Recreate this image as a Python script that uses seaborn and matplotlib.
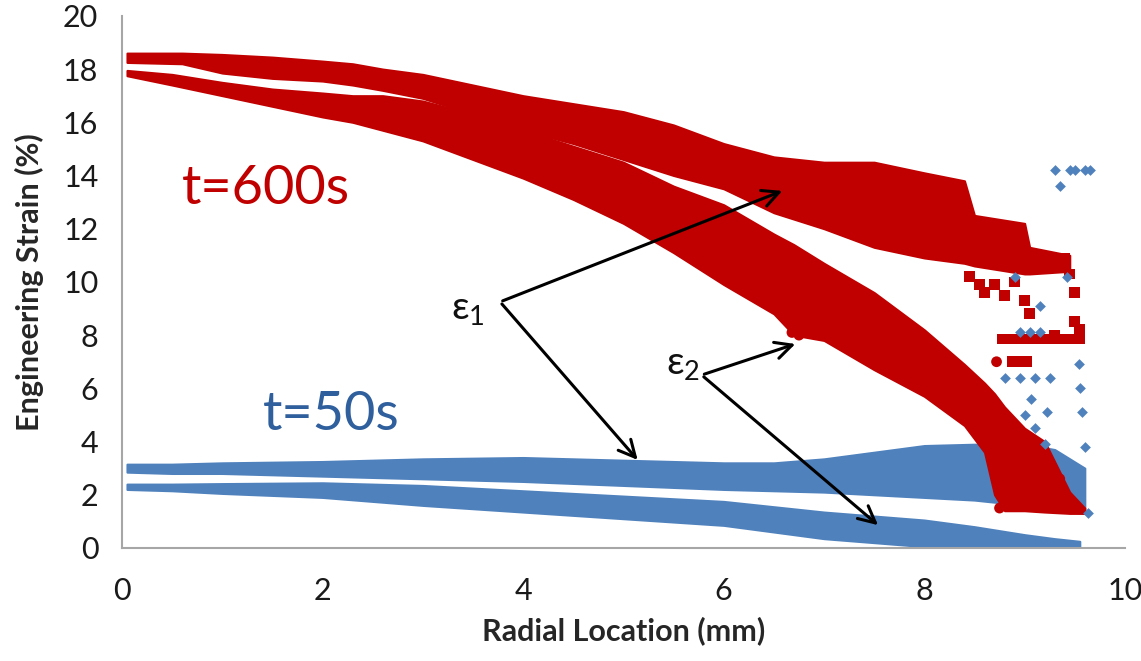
import numpy as np
import pandas as pd
import matplotlib
matplotlib.use("Agg")
import matplotlib.pyplot as plt
import seaborn as sns

# ---- strain bands: radial position (mm) with lower / upper envelope (%) ----
# t = 600 s, epsilon_1 (squares)
r600_e1_x = [0.05, 0.6, 1.0, 1.5, 2.0, 2.3, 2.6, 3.0, 3.5, 4.0, 4.5, 5.0, 5.5, 6.0, 6.5, 7.0, 7.5, 8.0, 8.4, 8.5, 9.0, 9.05, 9.45]
r600_e1_hi = [18.6, 18.6, 18.55, 18.45, 18.3, 18.2, 18.0, 17.8, 17.4, 17.0, 16.7, 16.4, 15.9, 15.2, 14.7, 14.5, 14.5, 14.1, 13.8, 12.5, 12.2, 11.3, 11.0]
r600_e1_lo = [18.25, 18.2, 17.85, 17.65, 17.55, 17.4, 17.2, 16.9, 16.3, 15.7, 15.2, 14.6, 14.0, 13.5, 12.6, 12.0, 11.3, 10.9, 10.7, 10.6, 10.3, 10.3, 10.4]

# t = 600 s, epsilon_2 (circles)
r600_e2_x = [0.05, 0.5, 1.0, 1.5, 2.0, 2.3, 2.6, 3.0, 3.5, 4.0, 4.5, 5.0, 5.5, 6.0, 6.5, 6.7, 7.0, 7.5, 8.0, 8.4, 8.6, 8.7, 8.8, 9.0, 9.2, 9.45, 9.6]
r600_e2_hi = [17.95, 17.8, 17.5, 17.25, 17.1, 17.0, 17.0, 16.8, 16.3, 15.7, 15.1, 14.5, 13.6, 12.9, 11.8, 11.4, 10.7, 9.6, 8.2, 6.9, 6.2, 5.8, 5.3, 4.5, 4.0, 2.1, 1.5]
r600_e2_lo = [17.75, 17.4, 17.0, 16.6, 16.2, 16.0, 15.7, 15.3, 14.6, 13.9, 13.1, 12.2, 11.1, 9.9, 8.8, 8.0, 7.8, 6.7, 5.7, 4.6, 3.6, 2.0, 1.4, 1.4, 1.35, 1.3, 1.3]

# t = 50 s, epsilon_1 (diamonds)
r50_e1_x = [0.05, 0.5, 1.0, 2.0, 3.0, 4.0, 5.0, 6.0, 6.5, 7.0, 7.5, 8.0, 8.5, 9.0, 9.3, 9.6]
r50_e1_hi = [3.15, 3.15, 3.2, 3.25, 3.35, 3.4, 3.3, 3.2, 3.2, 3.35, 3.6, 3.85, 3.9, 3.9, 3.7, 3.0]
r50_e1_lo = [2.85, 2.8, 2.8, 2.7, 2.6, 2.5, 2.35, 2.2, 2.15, 2.1, 2.0, 1.9, 1.8, 1.6, 1.4, 1.3]

# t = 50 s, epsilon_2 (diamonds)
r50_e2_x = [0.05, 0.5, 1.0, 2.0, 3.0, 4.0, 5.0, 6.0, 6.5, 7.0, 7.5, 8.0, 8.5, 9.0, 9.3, 9.55]
r50_e2_hi = [2.4, 2.4, 2.42, 2.45, 2.35, 2.15, 1.95, 1.75, 1.55, 1.35, 1.2, 1.05, 0.8, 0.5, 0.35, 0.25]
r50_e2_lo = [2.2, 2.15, 2.05, 1.9, 1.6, 1.35, 1.1, 0.85, 0.6, 0.35, 0.2, 0.05, 0.0, 0.0, 0.0, 0.0]

# loose points near the specimen edge
red_sq_x = [8.45, 8.55, 8.6, 8.7, 8.8, 8.9, 9.0, 9.05, 9.4, 9.45, 9.5, 9.5, 9.55, 9.3,
            8.78, 8.88, 8.98, 9.08, 9.18, 9.28, 9.38, 9.48, 9.55, 8.88, 8.95, 9.02]
red_sq_y = [10.2, 9.9, 9.6, 9.9, 9.5, 10.0, 9.3, 8.8, 10.9, 10.3, 9.6, 8.5, 8.2, 8.0,
            7.85, 7.85, 7.85, 7.85, 7.85, 7.85, 7.85, 7.85, 7.85, 7.0, 7.0, 7.0]
red_ci_x = [6.68, 6.75, 8.72, 8.8, 8.95, 9.1, 9.25, 9.35, 8.75, 9.05]
red_ci_y = [8.1, 8.0, 7.0, 3.3, 3.6, 3.3, 2.9, 2.6, 1.5, 1.9]
blue_pt_x = [9.3, 9.45, 9.5, 9.6, 9.65, 9.35, 8.9, 9.15, 9.42, 8.95, 9.05, 9.15, 8.8, 8.95, 9.1, 9.25,
             9.54, 9.55, 9.57, 9.06, 9.22, 9.0, 9.1, 9.2, 9.6, 9.63]
blue_pt_y = [14.2, 14.2, 14.2, 14.2, 14.2, 13.6, 10.2, 9.1, 10.2, 8.1, 8.1, 8.1, 6.4, 6.4, 6.4, 6.4,
             6.9, 6.0, 5.1, 5.6, 5.1, 5.0, 4.5, 3.9, 3.8, 1.3]

RED = "#C00000"
BLUE = "#4F81BD"
BLUE_TXT = "#2F5F9C"

sns.set_theme(style="white")
plt.rcParams["font.family"] = ["Lato", "DejaVu Sans"]
plt.rcParams["mathtext.fontset"] = "custom"
plt.rcParams["mathtext.rm"] = "Lato"
plt.rcParams["mathtext.it"] = "Lato"

fig = plt.figure(figsize=(11.41, 6.61), dpi=100)
ax = fig.add_axes([0.1069, 0.171, 0.879, 0.805])


def band(x, lo, hi, color, z):
    ax.fill_between(x, lo, hi, color=color, linewidth=1.5, edgecolor=color, zorder=z)


band(r50_e1_x, r50_e1_lo, r50_e1_hi, BLUE, 2)
band(r50_e2_x, r50_e2_lo, r50_e2_hi, BLUE, 2)
band(r600_e2_x, r600_e2_lo, r600_e2_hi, RED, 3)
band(r600_e1_x, r600_e1_lo, r600_e1_hi, RED, 3)

loose = pd.concat([
    pd.DataFrame({"x": red_sq_x, "y": red_sq_y, "kind": "sq"}),
    pd.DataFrame({"x": red_ci_x, "y": red_ci_y, "kind": "ci"}),
])
sns.scatterplot(data=loose, x="x", y="y", style="kind", markers={"sq": "s", "ci": "o"},
                ax=ax, color=RED, s=60, linewidth=0, zorder=4, legend=False)
sns.scatterplot(x=blue_pt_x, y=blue_pt_y, ax=ax, color=BLUE, marker="D", s=30,
                linewidth=0, zorder=5, legend=False)

ax.set_xlim(0, 10)
ax.set_ylim(0, 20)
ax.set_xticks(range(0, 11, 2))
ax.set_yticks(range(0, 21, 2))
for s in ["top", "right"]:
    ax.spines[s].set_visible(False)
for s in ["left", "bottom"]:
    ax.spines[s].set_color("#a6a6a6")
    ax.spines[s].set_linewidth(1.5)
ax.tick_params(axis="both", which="major", direction="out", length=9, width=1.5,
               color="#a6a6a6", labelsize=22, labelcolor="#1a1a1a", pad=8)
ax.tick_params(axis="x", pad=12)

ax.set_xlabel("Radial Location (mm)", fontsize=22, fontweight="bold", labelpad=8)
ax.set_ylabel("Engineering Strain (%)", fontsize=22, fontweight="bold", labelpad=14)

ax.text(1.44, 13.5, "t=600s", color=RED, fontsize=39, ha="center", va="center")
ax.text(2.09, 5.0, "t=50s", color=BLUE_TXT, fontsize=39, ha="center", va="center")

# arrows pointing from the strain labels to their bands
arrow = dict(arrowstyle="->", lw=2.2, color="black", mutation_scale=30)
v1 = (3.77, 9.25)
v2 = (5.78, 6.5)
ax.annotate("", xy=(6.61, 13.46), xytext=v1, arrowprops=arrow, zorder=6)
ax.annotate("", xy=(5.16, 3.23), xytext=v1, arrowprops=arrow, zorder=6)
ax.annotate("", xy=(6.74, 7.7), xytext=v2, arrowprops=arrow, zorder=6)
ax.annotate("", xy=(7.56, 0.79), xytext=v2, arrowprops=arrow, zorder=6)
ax.text(3.28, 9.0, r"ε$_1$", fontsize=28, ha="left", va="center", color="#111111")
ax.text(5.42, 6.9, r"ε$_2$", fontsize=28, ha="left", va="center", color="#111111")

fig.savefig("out.png", dpi=100)
